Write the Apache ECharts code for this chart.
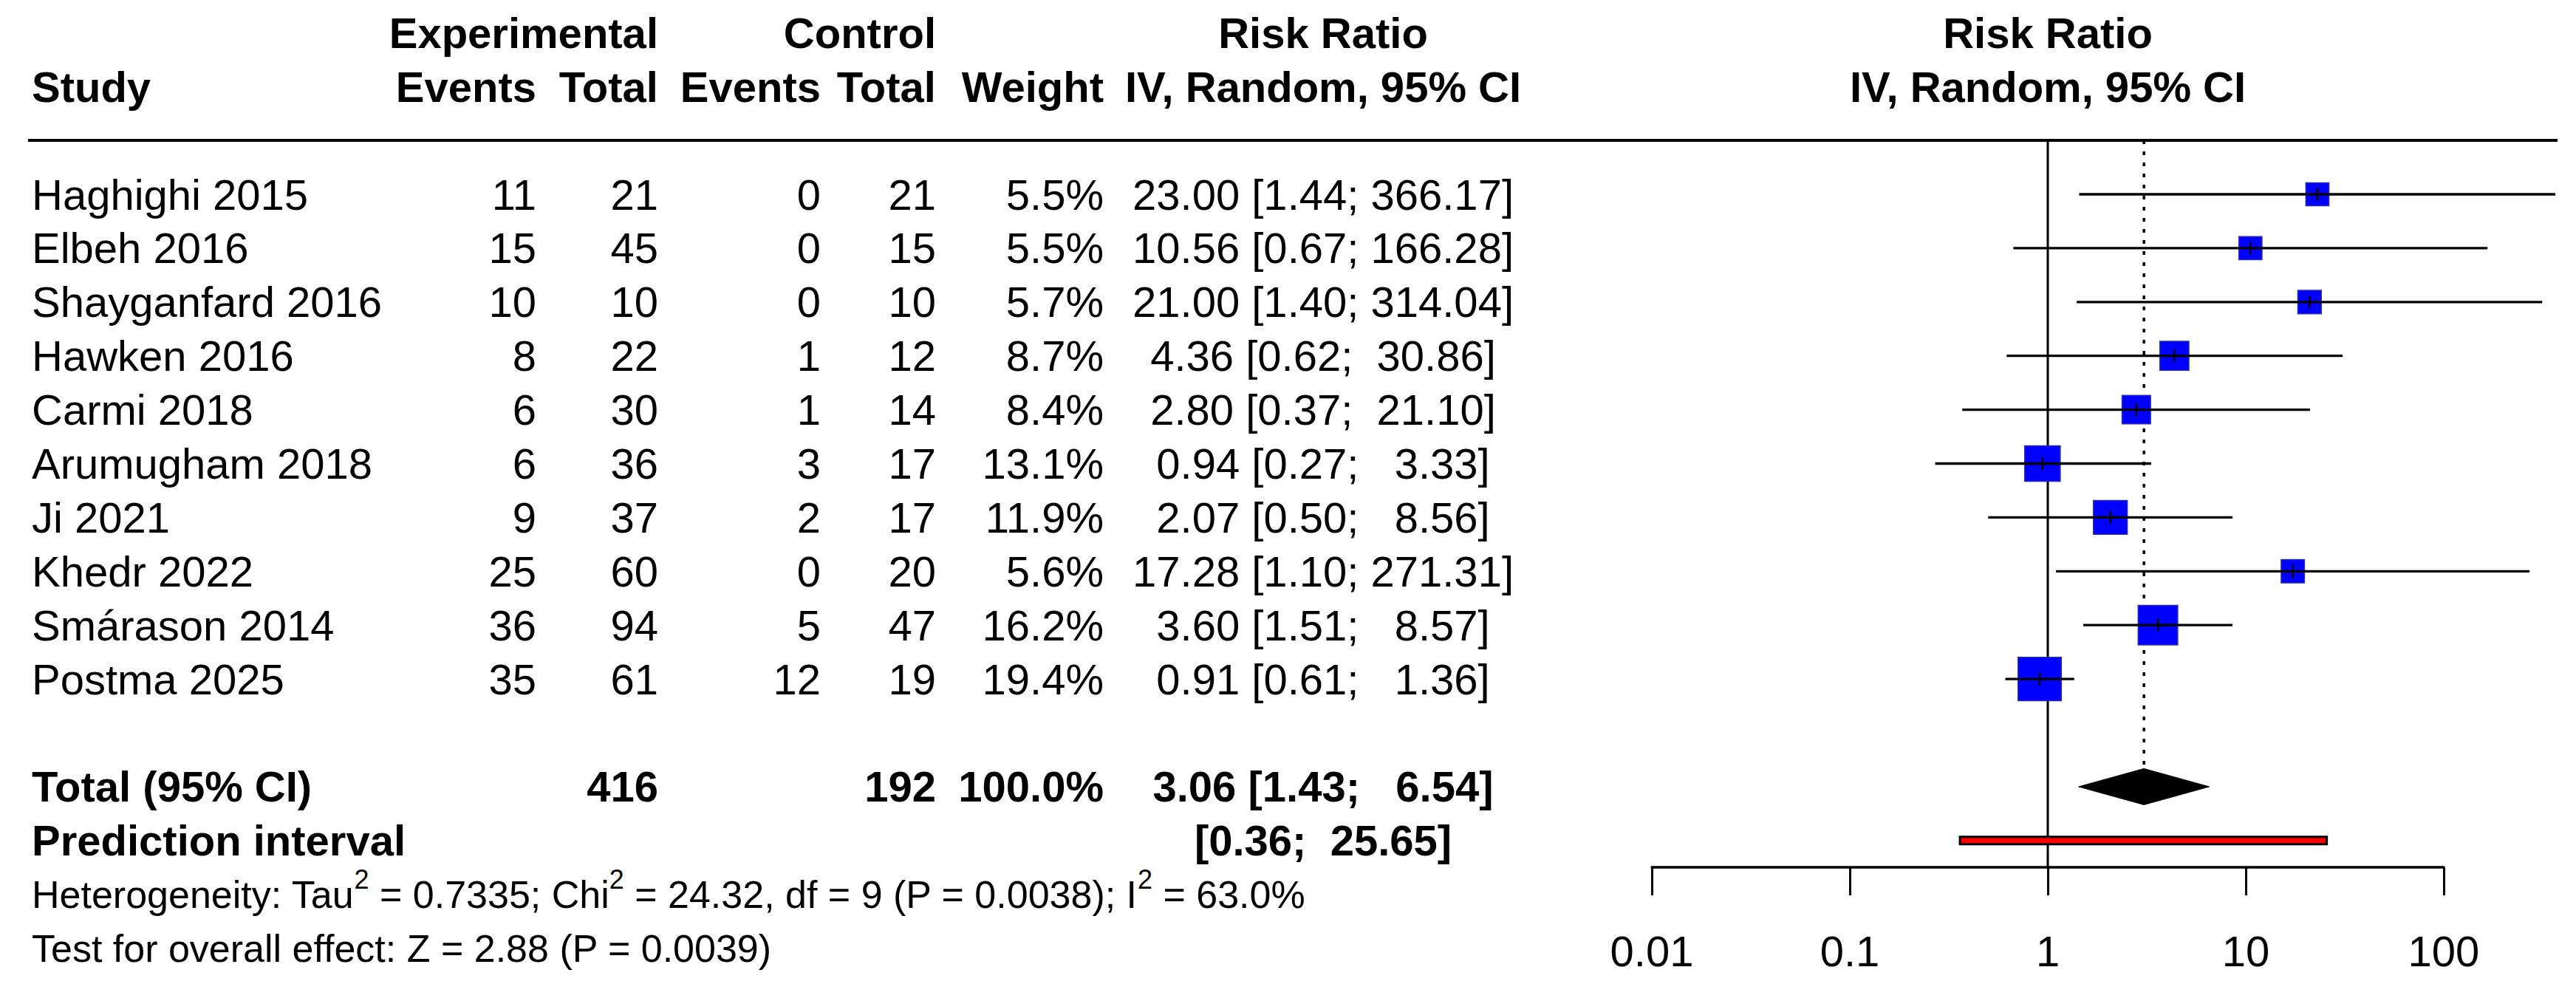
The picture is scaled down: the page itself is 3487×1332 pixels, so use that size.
<!DOCTYPE html>
<html lang="en" style="height: 100%">
<head>
  <meta charset="utf-8">
  <style>
    body { margin: 0; background-color: #ffffff; }
  </style>
</head>
<body style="height: 100%; margin: 0">
  <div id="container" style="height: 100%"></div>

  <script type="text/javascript" src="https://cdn.jsdelivr.net/npm/echarts@6/dist/echarts.min.js"></script>
  <script type="text/javascript">
// ---- data ----
var studies = ['Haghighi 2015', 'Elbeh 2016', 'Shayganfard 2016', 'Hawken 2016', 'Carmi 2018',
  'Arumugham 2018', 'Ji 2021', 'Khedr 2022', 'Smárason 2014', 'Postma 2025'];
var expEvents = [11, 15, 10, 8, 6, 6, 9, 25, 36, 35];
var expTotal = [21, 45, 10, 22, 30, 36, 37, 60, 94, 61];
var ctrlEvents = [0, 0, 0, 1, 1, 3, 2, 0, 5, 12];
var ctrlTotal = [21, 15, 10, 12, 14, 17, 17, 20, 47, 19];
var weights = [5.5, 5.5, 5.7, 8.7, 8.4, 13.1, 11.9, 5.6, 16.2, 19.4];
var riskRatio = [23.00, 10.56, 21.00, 4.36, 2.80, 0.94, 2.07, 17.28, 3.60, 0.91];
var ciLower = [1.44, 0.67, 1.40, 0.62, 0.37, 0.27, 0.50, 1.10, 1.51, 0.61];
var ciUpper = [366.17, 166.28, 314.04, 30.86, 21.10, 3.33, 8.56, 271.31, 8.57, 1.36];
var pooled = [3.06, 1.43, 6.54];          // estimate, lower, upper
var prediction = [0.36, 25.65];           // lower, upper
var totals = [416, 192, 100.0];           // exp total, control total, weight
var nullValue = 1;
var tickValues = [0.01, 0.1, 1, 10, 100];
var tickLabels = ['0.01', '0.1', '1', '10', '100'];
// {sup|..} marks a superscript
var hetText = 'Heterogeneity: Tau{sup|2} = 0.7335; Chi{sup|2} = 24.32, df = 9 (P = 0.0038); I{sup|2} = 63.0%';
var effectText = 'Test for overall effect: Z = 2.88 (P = 0.0039)';

// ---- layout (pixels) ----
var FONT = '"Liberation Sans", Arial, Helvetica, sans-serif';
var FS = 58, FS_SMALL = 52, FS_SUP = 36;
var ROW0_Y = 263, ROW_H = 72.9;
var HEADER_LINE_Y = 190, AXIS_Y = 1174;
var FOREST_LEFT = 2236, FOREST_RIGHT = 3308;
var SQUARE_SCALE = 13.3, DIAMOND_HALF = 24.5, PRED_HALF = 5;
var ROW_TOTAL = 11, ROW_PRED = 12, ROW_HET = 13, ROW_TEST = 14;

var dom = document.getElementById('container');
var myChart = echarts.init(dom, null, { renderer: 'svg' });
var W = myChart.getWidth(), H = myChart.getHeight();
var yMin = -ROW0_Y / ROW_H, yMax = (H - ROW0_Y) / ROW_H;

function fmt(v) { return v.toFixed(2); }
var upperWidth = Math.max.apply(null, ciUpper.map(function (v) { return fmt(v).length; }));
function padLeft(s, n) { while (s.length < n) s = '\u00a0' + s; return s; }
function ciText(lo, hi) { return '[' + fmt(lo) + ';\u00a0' + padLeft(fmt(hi), upperWidth) + ']'; }

// table cells: x, row, text, align, bold, size
var cells = [];
function cell(x, row, text, align, bold, size) {
  cells.push({ x: x, row: row, text: String(text), align: align || 'right', bold: !!bold, size: size || FS });
}
var COL = { study: 43, expE: 726, expT: 891, ctlE: 1111, ctlT: 1267, weight: 1494, ci: 1791 };

cell(COL.expT, -3, 'Experimental', 'right', true);
cell(COL.ctlT, -3, 'Control', 'right', true);
cell(COL.ci, -3, 'Risk Ratio', 'center', true);
cell(COL.study, -2, 'Study', 'left', true);
cell(COL.expE, -2, 'Events', 'right', true);
cell(COL.expT, -2, 'Total', 'right', true);
cell(COL.ctlE, -2, 'Events', 'right', true);
cell(COL.ctlT, -2, 'Total', 'right', true);
cell(COL.weight, -2, 'Weight', 'right', true);
cell(COL.ci, -2, 'IV, Random, 95% CI', 'center', true);

studies.forEach(function (s, i) {
  cell(COL.study, i, s, 'left');
  cell(COL.expE, i, expEvents[i]);
  cell(COL.expT, i, expTotal[i]);
  cell(COL.ctlE, i, ctrlEvents[i]);
  cell(COL.ctlT, i, ctrlTotal[i]);
  cell(COL.weight, i, weights[i].toFixed(1) + '%');
  cell(COL.ci, i, fmt(riskRatio[i]) + ' ' + ciText(ciLower[i], ciUpper[i]), 'center');
});

cell(COL.study, ROW_TOTAL, 'Total (95% CI)', 'left', true);
cell(COL.expT, ROW_TOTAL, totals[0], 'right', true);
cell(COL.ctlT, ROW_TOTAL, totals[1], 'right', true);
cell(COL.weight, ROW_TOTAL, totals[2].toFixed(1) + '%', 'right', true);
cell(COL.ci, ROW_TOTAL, fmt(pooled[0]) + ' ' + ciText(pooled[1], pooled[2]), 'center', true);
cell(COL.study, ROW_PRED, 'Prediction interval', 'left', true);
cell(COL.ci, ROW_PRED, ciText(prediction[0], prediction[1]), 'center', true);
cell(COL.study, ROW_HET, hetText, 'left', false, FS_SMALL);
cell(COL.study, ROW_TEST, effectText, 'left', false, FS_SMALL);

function textEl(p, c) {
  var style = {
    text: c.text,
    fontSize: c.size, fontFamily: FONT, fontWeight: c.bold ? 'bold' : 'normal',
    align: c.align, textAlign: c.align,
    verticalAlign: 'middle', textVerticalAlign: 'middle',
    fill: '#000000'
  };
  if (c.text.indexOf('{sup|') >= 0) {
    style.rich = {
      sup: {
        fontSize: FS_SUP, fontFamily: FONT, font: FS_SUP + 'px ' + FONT, fill: '#000000',
        verticalAlign: 'top', padding: [0, 0, 40, 0]
      }
    };
  } else {
    style.font = (c.bold ? 'bold ' : '') + c.size + 'px ' + FONT;
  }
  return { type: 'text', x: p[0], y: p[1], style: style };
}

option = {
  animation: false,
  backgroundColor: '#ffffff',
  grid: [
    { left: 0, right: 0, top: 0, bottom: 0 },
    { left: FOREST_LEFT, width: FOREST_RIGHT - FOREST_LEFT, top: 0, bottom: 0 },
    { left: FOREST_LEFT, width: FOREST_RIGHT - FOREST_LEFT, top: AXIS_Y - 1, height: 1 }
  ],
  xAxis: [
    { gridIndex: 0, type: 'value', min: 0, max: W, show: false },
    { gridIndex: 1, type: 'log', logBase: 10, min: tickValues[0], max: tickValues[tickValues.length - 1], show: false },
    {
      gridIndex: 2, type: 'log', logBase: 10, min: tickValues[0], max: tickValues[tickValues.length - 1],
      position: 'bottom', splitNumber: tickValues.length - 1,
      axisLine: { show: true, lineStyle: { color: '#000', width: 3.5 } },
      axisTick: { show: true, length: 38, lineStyle: { color: '#000', width: 3 } },
      splitLine: { show: false },
      axisLabel: {
        margin: 84, fontSize: FS, fontFamily: FONT, color: '#000',
        formatter: function (v) {
          var k = tickValues.findIndex(function (t) { return Math.abs(Math.log10(t) - Math.log10(v)) < 1e-6; });
          return k >= 0 ? tickLabels[k] : '';
        }
      }
    }
  ],
  yAxis: [
    { gridIndex: 0, type: 'value', min: yMin, max: yMax, inverse: true, show: false },
    { gridIndex: 1, type: 'value', min: yMin, max: yMax, inverse: true, show: false },
    { gridIndex: 2, type: 'value', show: false }
  ],
  graphic: [
    { type: 'line', shape: { x1: 38, y1: HEADER_LINE_Y, x2: 3462, y2: HEADER_LINE_Y }, style: { stroke: '#000', lineWidth: 4 } }
  ],
  series: [
    // table text
    {
      type: 'custom', xAxisIndex: 0, yAxisIndex: 0, silent: true,
      data: cells.map(function (c) { return [c.x, c.row]; }),
      renderItem: function (params, api) {
        return textEl(api.coord([api.value(0), api.value(1)]), cells[params.dataIndex]);
      }
    },
    // right-hand header, centred on the null line
    {
      type: 'custom', xAxisIndex: 1, yAxisIndex: 1, silent: true,
      data: [[nullValue, -3], [nullValue, -2]],
      renderItem: function (params, api) {
        var p = api.coord([api.value(0), api.value(1)]);
        var label = ['Risk Ratio', 'IV, Random, 95% CI'][params.dataIndex];
        return textEl(p, { text: label, align: 'center', bold: true, size: FS });
      }
    },
    // null line and pooled-estimate dashed line
    {
      type: 'custom', xAxisIndex: 1, yAxisIndex: 1, silent: true, clip: false,
      data: [[nullValue, 0], [pooled[0], 1]],
      renderItem: function (params, api) {
        var x = api.coord([api.value(0), ROW_TOTAL])[0];
        if (api.value(1) === 0) {
          return { type: 'line', shape: { x1: x, y1: HEADER_LINE_Y, x2: x, y2: AXIS_Y },
            style: { stroke: '#000', lineWidth: 3 } };
        }
        var yTop = api.coord([api.value(0), ROW_TOTAL])[1] - DIAMOND_HALF;
        return { type: 'line', shape: { x1: x, y1: HEADER_LINE_Y, x2: x, y2: yTop },
          style: { stroke: '#000', lineWidth: 3.5, lineDash: [5, 10] } };
      }
    },
    // studies: square, CI line, estimate tick
    {
      type: 'custom', xAxisIndex: 1, yAxisIndex: 1, silent: true, clip: false,
      data: studies.map(function (s, i) { return [riskRatio[i], i, ciLower[i], ciUpper[i], weights[i]]; }),
      encode: { x: 0, y: 1 },
      renderItem: function (params, api) {
        var row = api.value(1);
        var c = api.coord([api.value(0), row]);
        var lo = api.coord([api.value(2), row]);
        var hi = api.coord([api.value(3), row]);
        var side = SQUARE_SCALE * Math.sqrt(api.value(4));
        return {
          type: 'group',
          children: [
            { type: 'rect', shape: { x: c[0] - side / 2, y: c[1] - side / 2, width: side, height: side },
              style: { fill: '#0000ff', stroke: '#2a2ab4', lineWidth: 1.5 } },
            { type: 'line', shape: { x1: lo[0], y1: c[1], x2: hi[0], y2: c[1] },
              style: { stroke: '#000', lineWidth: 3.3 } },
            { type: 'line', shape: { x1: c[0], y1: c[1] - 8.5, x2: c[0], y2: c[1] + 8.5 },
              style: { stroke: '#000', lineWidth: 2.5 } }
          ]
        };
      }
    },
    // pooled diamond
    {
      type: 'custom', xAxisIndex: 1, yAxisIndex: 1, silent: true, clip: false,
      data: [[pooled[0], ROW_TOTAL, pooled[1], pooled[2]]],
      renderItem: function (params, api) {
        var row = api.value(1);
        var c = api.coord([api.value(0), row]);
        var lo = api.coord([api.value(2), row]);
        var hi = api.coord([api.value(3), row]);
        return { type: 'polygon',
          shape: { points: [[lo[0], c[1]], [c[0], c[1] - DIAMOND_HALF], [hi[0], c[1]], [c[0], c[1] + DIAMOND_HALF]] },
          style: { fill: '#000', stroke: '#000', lineWidth: 1 } };
      }
    },
    // prediction interval bar
    {
      type: 'custom', xAxisIndex: 1, yAxisIndex: 1, silent: true, clip: false,
      data: [[prediction[0], prediction[1], ROW_PRED]],
      renderItem: function (params, api) {
        var row = api.value(2);
        var lo = api.coord([api.value(0), row]);
        var hi = api.coord([api.value(1), row]);
        return { type: 'rect',
          shape: { x: lo[0], y: lo[1] - PRED_HALF, width: hi[0] - lo[0], height: 2 * PRED_HALF },
          style: { fill: '#ff0000', stroke: '#000', lineWidth: 3 } };
      }
    }
  ]
};

if (option && typeof option === 'object') {
  myChart.setOption(option);
}

window.addEventListener('resize', myChart.resize);
  </script>
</body>
</html>
